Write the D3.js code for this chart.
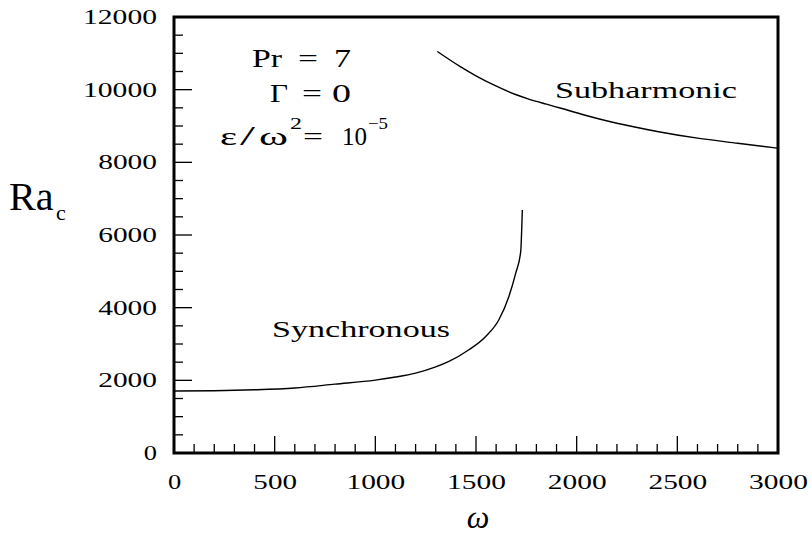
<!DOCTYPE html>
<html><head><meta charset="utf-8">
<script src="https://cdn.jsdelivr.net/npm/d3@7"></script>
<style>
body{margin:0;background:#fff;}
svg{display:block;}
</style></head>
<body><svg id="c" width="812" height="534"></svg>
<script>
// Data
const syncOmega = [0,200,400,600,800,1000,1100,1200,1300,1363,1463,1547,1613,1663,1697,1722,1730];
const syncRa    = [1708,1715,1740,1790,1895,2005,2090,2200,2370,2513,2835,3202,3661,4303,4945,5541,6690];
const subOmega  = [1308,1422,1500,1588,1700,1755,1850,1922,2038,2200,2400,2600,2800,3000];
const subRa     = [11050,10633,10380,10129,9860,9755,9600,9488,9304,9075,8850,8665,8525,8390];
const xTicks = [0,500,1000,1500,2000,2500,3000];
const yTicks = [0,2000,4000,6000,8000,10000,12000];

const svg = d3.select("#c");
const L=174, R=778, T=17, B=453;
const x = d3.scaleLinear().domain([0,3000]).range([L,R]);
const y = d3.scaleLinear().domain([0,12000]).range([B,T]);
const serif = '"Liberation Serif",serif';

// minor/major ticks
svg.append("g").selectAll("line").data(d3.range(0,3001,100)).join("line")
  .attr("x1",d=>x(d)).attr("x2",d=>x(d))
  .attr("y1",B).attr("y2",d=>B-(d%500===0?17:9))
  .attr("stroke","#000").attr("stroke-width",1.3);
svg.append("g").selectAll("line").data(d3.range(0,12001,500)).join("line")
  .attr("y1",d=>y(d)).attr("y2",d=>y(d))
  .attr("x1",L).attr("x2",d=>L+(d%2000===0?18:9))
  .attr("stroke","#000").attr("stroke-width",1.3);

// axes via d3 (labels)
const xAxis = svg.append("g").attr("transform",`translate(0,${B})`)
  .call(d3.axisBottom(x).tickValues(xTicks).tickSize(0).tickPadding(22).tickFormat(d3.format("d")));
const yAxis = svg.append("g").attr("transform",`translate(${L},0)`)
  .call(d3.axisLeft(y).tickValues(yTicks).tickSize(0).tickPadding(17).tickFormat(d3.format("d")));
[xAxis,yAxis].forEach(g=>{
  g.select(".domain").remove();
  g.selectAll(".tick text").attr("font-family",serif).attr("font-size",20)
    .attr("textLength",d=>String(d).length*15.2-2).attr("lengthAdjust","spacingAndGlyphs")
    .attr("fill","#000");
});

// frame
svg.append("rect").attr("x",L).attr("y",T).attr("width",R-L).attr("height",B-T)
  .attr("fill","none").attr("stroke","#000").attr("stroke-width",3);

// curves
const line = d3.line().x(d=>x(d[0])).y(d=>y(d[1])).curve(d3.curveMonotoneX);
svg.append("path").datum(syncOmega.map((w,i)=>[w,syncRa[i]]))
  .attr("d",line).attr("fill","none").attr("stroke","#000").attr("stroke-width",1.4);
svg.append("path").datum(subOmega.map((w,i)=>[w,subRa[i]]))
  .attr("d",line).attr("fill","none").attr("stroke","#000").attr("stroke-width",1.4);

// text helper
function txt(xp,yp,s,opts={}){
  const t=svg.append("text").attr("x",xp).attr("y",yp)
    .attr("font-family",opts.family||serif).attr("font-size",opts.size||24)
    .attr("text-anchor",opts.anchor||"start").attr("fill","#000");
  if(opts.len){ t.attr("textLength",opts.len).attr("lengthAdjust",opts.adj||"spacingAndGlyphs"); }
  if(opts.italic) t.attr("font-style","italic");
  t.text(s); return t;
}
txt(555,98,"Subharmonic",{len:182});
txt(272,337,"Synchronous",{len:178});

// parameter block
txt(252,67,"Pr",{len:30,size:25});
txt(298,67,"=",{len:20,size:25});
txt(334,67,"7",{len:17,size:25});
txt(270,102,"Γ",{len:18,size:25});
txt(302,102,"=",{len:20,size:25});
txt(332,102,"0",{len:19,size:25});
txt(220,145,"ε",{len:17,size:25});
txt(240,145,"/",{len:15,size:27});
txt(259,145,"ω",{len:29,size:26});
txt(290,129,"2",{len:12,size:17});
txt(303,145,"=",{len:20,size:25});
txt(342,145,"10",{len:25,size:25});
txt(368,129,"−5",{len:20,size:17});

// axis titles
txt(9,210,"Ra",{size:40});
txt(56,220,"c",{size:22});
txt(478,528,"ω",{size:32,italic:true,anchor:"middle"});
</script></body></html>
